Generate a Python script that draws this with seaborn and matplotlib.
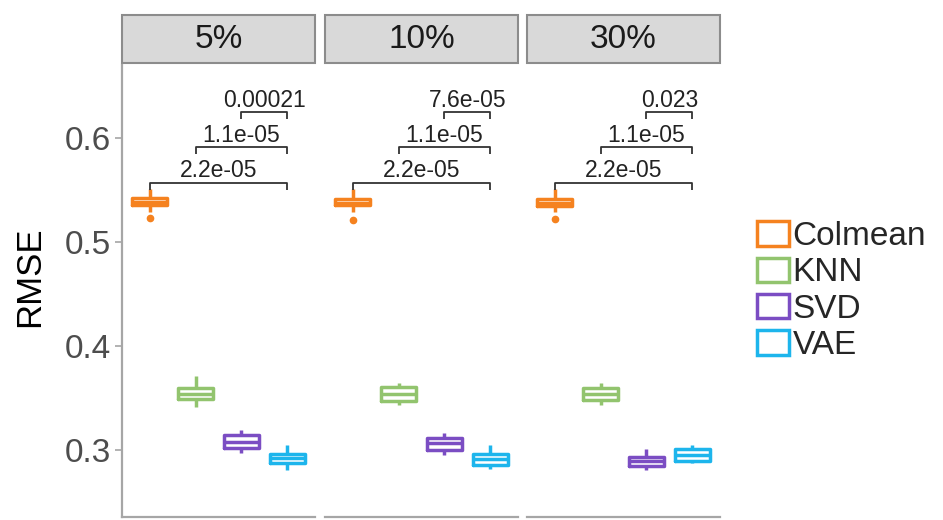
import numpy as np
import pandas as pd
import matplotlib.pyplot as plt
from matplotlib.patches import Rectangle
import seaborn as sns

methods = ['Colmean', 'KNN', 'SVD', 'VAE']
missing = ['5%', '10%', '30%']
colours = ['#F5821F', '#92C46E', '#7B4DC3', '#1DB5EC']

# RMSE of the runs (whisker ends, quartiles, median, outliers)
colmean_5 = [0.523, 0.529, 0.5356, 0.537, 0.5385, 0.540, 0.5423, 0.547, 0.551]
knn_5 = [0.3413, 0.3450, 0.349, 0.351, 0.3538, 0.357, 0.3596, 0.365, 0.371]
svd_5 = [0.2971, 0.2995, 0.302, 0.305, 0.3077, 0.311, 0.3144, 0.317, 0.3192]
vae_5 = [0.2808, 0.284, 0.2875, 0.290, 0.2923, 0.294, 0.2962, 0.300, 0.3048]

colmean_10 = [0.521, 0.529, 0.5350, 0.536, 0.5375, 0.539, 0.5415, 0.546, 0.551]
knn_10 = [0.3433, 0.345, 0.3471, 0.351, 0.3538, 0.357, 0.3606, 0.362, 0.3644]
svd_10 = [0.2952, 0.298, 0.300, 0.303, 0.3067, 0.309, 0.3115, 0.314, 0.3163]
vae_10 = [0.2817, 0.284, 0.2856, 0.289, 0.2913, 0.294, 0.2962, 0.300, 0.305]

colmean_30 = [0.522, 0.529, 0.5345, 0.536, 0.5375, 0.539, 0.5415, 0.546, 0.551]
knn_30 = [0.3433, 0.3455, 0.3481, 0.351, 0.3538, 0.356, 0.3596, 0.362, 0.3644]
svd_30 = [0.2808, 0.283, 0.2846, 0.287, 0.2894, 0.291, 0.2933, 0.297, 0.301]
vae_30 = [0.2875, 0.2885, 0.2894, 0.292, 0.2952, 0.298, 0.301, 0.303, 0.3048]

# wilcoxon p-values: Colmean-VAE, KNN-VAE, SVD-VAE
pvals = {
    '5%': ['2.2e-05', '1.1e-05', '0.00021'],
    '10%': ['2.2e-05', '1.1e-05', '7.6e-05'],
    '30%': ['2.2e-05', '1.1e-05', '0.023'],
}
comparisons = [('Colmean', 'VAE'), ('KNN', 'VAE'), ('SVD', 'VAE')]

series = {
    '5%': [colmean_5, knn_5, svd_5, vae_5],
    '10%': [colmean_10, knn_10, svd_10, vae_10],
    '30%': [colmean_30, knn_30, svd_30, vae_30],
}
rows = []
for p in missing:
    for m, vals in zip(methods, series[p]):
        for v in vals:
            rows.append((p, m, v))
df = pd.DataFrame(rows, columns=['missing', 'method', 'rmse'])

sns.set_theme(style='white')
plt.rcParams['font.family'] = ['Liberation Sans', 'DejaVu Sans']

W, H = 943, 520
fig = plt.figure(figsize=(9.43, 5.20), dpi=100)

lefts = [122, 325, 527]
pw = 193
top, bottom = 65, 517
bracket_y = [0.557, 0.591, 0.625]
tick_len = 0.007
pal = dict(zip(methods, colours))

axes = []
for i, p in enumerate(missing):
    ax = fig.add_axes([lefts[i] / W, 1 - bottom / H, pw / W, (bottom - top) / H])
    axes.append(ax)
    sub = df[df['missing'] == p]
    sns.boxplot(data=sub, x='method', y='rmse', hue='method', order=methods,
                hue_order=methods, palette=pal, fill=False, width=0.75,
                linewidth=2.5, fliersize=4.5, showcaps=False,
                flierprops={'marker': 'o'}, legend=(i == 2), ax=ax)
    for ln in ax.lines:
        if ln.get_marker() == 'o':
            ln.set_markerfacecolor(ln.get_markeredgecolor())

    ax.set_xlim(-0.6, 3.6)
    ax.set_ylim(0.2356, 0.670)
    ax.set_xlabel('')
    ax.set_ylabel('')
    ax.set_xticks([])
    for s in ['top', 'right']:
        ax.spines[s].set_visible(False)
    ax.spines['bottom'].set_color('#A6A6A6')
    ax.spines['bottom'].set_linewidth(1.6)
    if i == 0:
        ax.spines['left'].set_color('#A6A6A6')
        ax.spines['left'].set_linewidth(1.6)
        ax.set_yticks([0.3, 0.4, 0.5, 0.6])
        ax.set_yticklabels(['0.3', '0.4', '0.5', '0.6'])
        ax.tick_params(axis='y', left=True, length=5, width=1.2, color='#A6A6A6',
                       labelsize=24, labelcolor='#4D4D4D', pad=3)
    else:
        ax.spines['left'].set_visible(False)
        ax.set_yticks([])

    # significance brackets
    for (a, b), yb, lab in zip(comparisons, bracket_y, pvals[p]):
        xa, xb = methods.index(a), methods.index(b)
        ax.plot([xa, xa, xb, xb], [yb - tick_len, yb, yb, yb - tick_len],
                color='#333333', lw=1.3, solid_capstyle='butt')
        ax.text((xa + xb) / 2, yb + 0.0003, lab, ha='center', va='bottom',
                fontsize=16.5, color='#222222')

    # facet strip
    ax.add_patch(Rectangle((0, (bottom - 63) / (bottom - top)), 1,
                           48 / (bottom - top), transform=ax.transAxes,
                           facecolor='#D9D9D9', edgecolor='#8C8C8C', lw=1.5,
                           clip_on=False))
    ax.text(0.5, (bottom - 39) / (bottom - top), p, transform=ax.transAxes,
            ha='center', va='center', fontsize=24, color='#1A1A1A')

fig.text(30 / W, 1 - 277 / H, 'RMSE', rotation=90, ha='center', va='center',
         fontsize=25, color='black')

sns.move_legend(axes[2], 'center left', bbox_to_anchor=(757 / W, 1 - 291 / H),
                bbox_transform=fig.transFigure, title=None, frameon=False,
                fontsize=24, handlelength=0.95, handleheight=0.75,
                handletextpad=0.12, labelspacing=0.16, borderpad=0,
                borderaxespad=0)

fig.savefig('out.png', dpi=100)
